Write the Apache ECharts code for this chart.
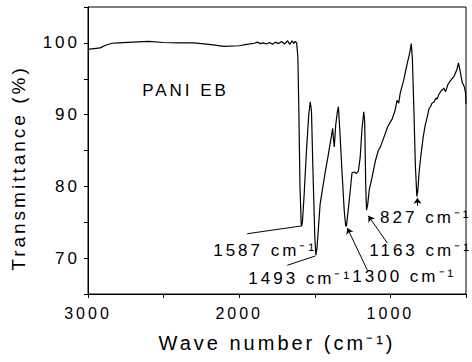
<!DOCTYPE html>
<html>
<head>
<meta charset="utf-8">
<script src="https://cdn.jsdelivr.net/npm/echarts/dist/echarts.min.js"></script>
<style>
  html, body { margin: 0; padding: 0; background: #fff; }
  #chart { width: 472px; height: 362px; }
  /* the original figure uses widely tracked lettering */
  #chart svg text { letter-spacing: 3px; }
</style>
</head>
<body>
<div id="chart"></div>
<script>
// FTIR spectrum of PANI EB
const wavenumbers = [
  3000, 2960, 2920, 2880, 2840, 2800, 2700, 2600, 2500, 2400, 2300, 2200, 2100, 2000,
  1950, 1900, 1880, 1860, 1840, 1820, 1800, 1780, 1760, 1740, 1720, 1700, 1680, 1665,
  1650, 1640, 1630, 1620, 1612, 1605, 1598, 1590, 1587, 1582, 1570, 1555, 1540, 1530,
  1522, 1512, 1500, 1493, 1485, 1475, 1465, 1450, 1431, 1410, 1390, 1382, 1376, 1371,
  1362, 1350, 1344, 1335, 1320, 1305, 1295, 1290, 1280, 1265, 1254, 1240, 1225, 1212,
  1200, 1188, 1176, 1170, 1163, 1158, 1150, 1140, 1121, 1100, 1080, 1066, 1040, 1020,
  1000, 990, 970, 956, 945, 935, 912, 890, 870, 862, 855, 845, 835, 825,
  818, 810, 800, 783, 770, 755, 745, 735, 725, 710, 700, 690, 680, 665,
  655, 647, 635, 620, 600, 580, 560, 550, 540, 525, 510, 503, 500
];
const transmittance = [
  99.1, 99.2, 99.3, 99.7, 99.95, 100.0, 100.1, 100.2, 100.05, 100.0, 100.0, 99.8, 99.5, 99.6,
  99.8, 99.95, 100.1, 99.9, 100.0, 99.85, 100.05, 99.8, 100.1, 99.9, 100.2, 99.85, 100.3, 99.8,
  100.3, 99.9, 100.2, 100.0, 98, 90, 80, 74.8, 74.5, 75.0, 79, 85, 90, 91.8,
  90.5, 82, 73, 70.4, 71.5, 74.5, 77.5, 79.5, 82, 84.5, 87, 88.1, 86.5, 85.5,
  88.5, 90.5, 91.1, 88, 82, 76.5, 74.4, 74.6, 76.5, 79.5, 81.9, 82.0, 81.8, 82.1,
  84, 88, 90.4, 89, 80, 76.7, 77.5, 79.5, 81.3, 83.5, 85, 85.5, 87, 88.2,
  89, 89.3, 90.5, 92.0, 91.6, 93, 94.8, 97, 98.8, 99.9, 98, 91, 83, 78.6,
  79.5, 82, 84, 86.9, 88.5, 89.8, 90.8, 91.1, 91.6, 91.8, 92.3, 92.2, 92.8, 93.3,
  93.5, 93.7, 93.2, 94.2, 94.8, 95.3, 96.3, 97.2, 96.2, 94.5, 93.8, 93.0, 91.5
];
const xTickLabels = [1000, 2000, 3000];
const yTickLabels = [70, 80, 90, 100];
const sampleName = 'PANI EB';
const yTitle = 'Transmittance (%)';

// peak labels: text, label anchor, leader line [from, to], arrow head at the peak?
const peakNotes = [
  { text: '1587 cm⁻¹', at: [2172, 71.1], line: [[1947, 73.4], [1583, 74.5]], arrow: false },
  { text: '1493 cm⁻¹', at: [1940, 67.2], line: [[1682, 69.0], [1497, 70.3]], arrow: false },
  { text: '1300 cm⁻¹', at: [1252, 67.4], line: [[1152, 68.3], [1285, 74.2]], arrow: true },
  { text: '1163 cm⁻¹', at: [1140, 71.1], line: [[1020, 72.1], [1146, 75.9]], arrow: true },
  { text: '827 cm⁻¹',  at: [1068, 75.6], line: [[821, 77.3], [821, 78.4]], arrow: true }
];

const chart = echarts.init(document.getElementById('chart'), null, { renderer: 'svg' });
const ink = '#000';
const font = 'Liberation Sans, Arial, sans-serif';

const option = {
  animation: false,
  backgroundColor: '#fff',
  grid: { left: 88, right: 6, top: 7, bottom: 68, show: true, borderColor: ink, borderWidth: 1 },
  // y title sits a little below the plot's middle in the original
  graphic: [{
    type: 'text', x: 18, y: 168, rotation: Math.PI / 2, silent: true,
    style: {
      text: yTitle, fill: ink, font: '19px ' + font,
      textAlign: 'center', textVerticalAlign: 'middle'
    }
  }],
  xAxis: {
    type: 'value', min: 500, max: 3000, interval: 500, inverse: true,
    name: 'Wave number (cm⁻¹)', nameLocation: 'middle', nameGap: 39,
    nameTextStyle: { fontSize: 20, color: ink, fontFamily: font },
    axisLine: { lineStyle: { color: ink, width: 1 } },
    axisTick: { inside: false, length: 4, lineStyle: { color: ink } },
    axisLabel: {
      margin: 11, fontSize: 16, color: ink, fontFamily: font,
      formatter: v => xTickLabels.includes(v) ? String(v) : ''
    },
    splitLine: { show: false }
  },
  yAxis: {
    type: 'value', min: 65, max: 105, interval: 5,
    axisLine: { show: true, lineStyle: { color: ink, width: 1 } },
    axisTick: { show: true, inside: false, length: 4, lineStyle: { color: ink } },
    axisLabel: {
      margin: 8, fontSize: 17, color: ink, fontFamily: font,
      formatter: v => yTickLabels.includes(v) ? String(v) : ''
    },
    splitLine: { show: false }
  },
  series: [{
    type: 'line',
    data: wavenumbers.map((w, i) => [w, transmittance[i]]),
    showSymbol: false,
    lineStyle: { color: ink, width: 1.2 },
    markLine: {
      silent: true,
      animation: false,
      label: { show: false },
      data: peakNotes.map(n => [
        { coord: n.line[0], symbol: 'none' },
        { coord: n.line[1], symbol: n.arrow ? 'arrow' : 'none', symbolSize: 6 }
      ]),
      lineStyle: { color: ink, width: 1, type: 'solid' }
    },
    markPoint: {
      silent: true,
      symbol: 'circle',
      symbolSize: 0,
      data: peakNotes.map(n => ({
        coord: n.at,
        label: {
          show: true, position: 'right', distance: 0, formatter: n.text,
          fontSize: 17, color: ink, fontFamily: font
        }
      })).concat([{
        coord: [2642, 93.3],
        label: {
          show: true, position: 'right', distance: 0, formatter: sampleName,
          fontSize: 17, color: ink, fontFamily: font
        }
      }])
    }
  }]
};

chart.setOption(option);
</script>
</body>
</html>
